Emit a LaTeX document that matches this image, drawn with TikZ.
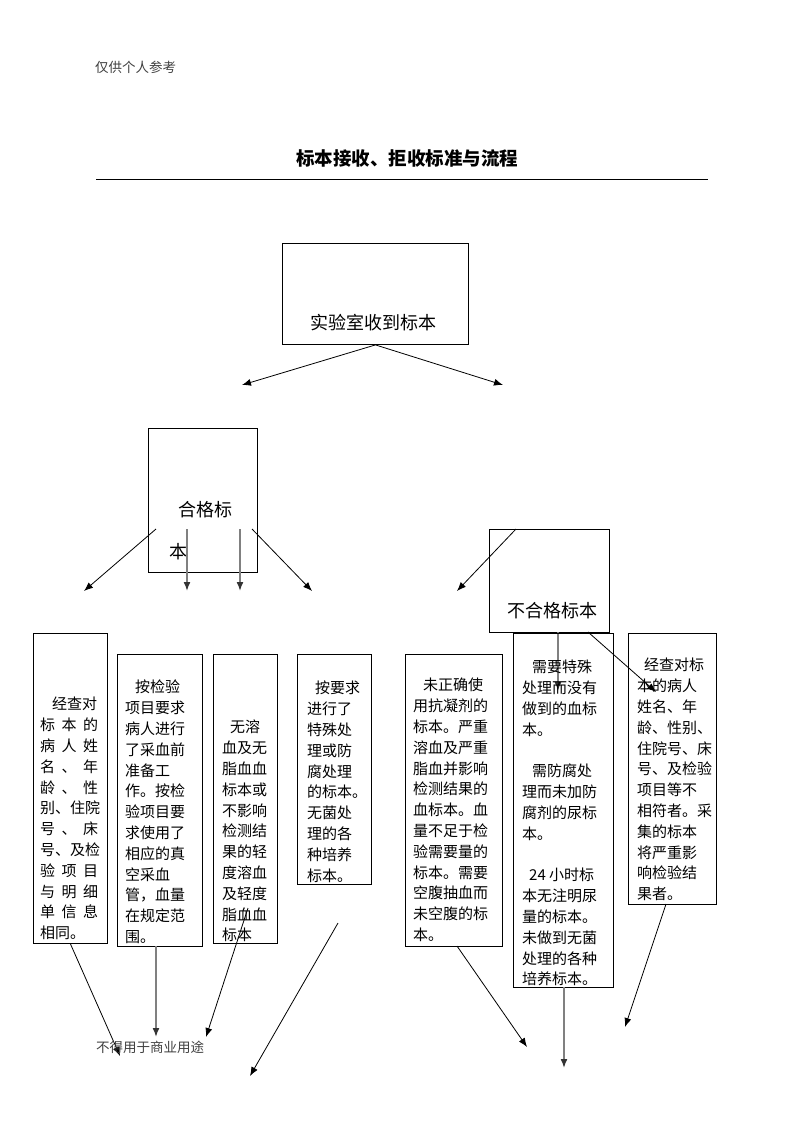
\documentclass[tikz,border=0pt]{standalone}
\usepackage{fontspec}
\newfontfamily\cjk{Noto Sans CJK SC}
\usetikzlibrary{arrows.meta}
% spread three characters over the line
\newcommand\spr[3]{\makebox[58pt][s]{#1\hfill #2\hfill #3}}
\tikzset{
  box/.style={draw, line width=0.9pt, inner sep=0pt, anchor=north west},
  txt/.style={font=\cjk\fontsize{15}{20.8}\selectfont, align=left, inner sep=0pt, anchor=north west},
  big/.style={font=\cjk\fontsize{18}{22}\selectfont, inner sep=0pt},
  small/.style={font=\cjk\fontsize{13.5}{16}\selectfont, text=black!75, inner sep=0pt, anchor=west},
  arr/.style={-{Latex[length=9pt,width=7pt]}, line width=0.8pt},
  garr/.style={-{Latex[length=9pt,width=7pt,color=black!80]}, draw=gray, line width=1.6pt},
}
\begin{document}
\begin{tikzpicture}[x=1pt,y=-1pt]
\useasboundingbox (0,0) rectangle (793,1122);
% header
\node[small] (note) at (95,67) {仅供个人参考};
\node[big, font=\cjk\fontsize{18.5}{22}\selectfont\bfseries] (title) at (407,158) {标本接收、拒收标准与流程};
\coordinate (rulel) at (96,179);
\coordinate (ruler) at (708,179);
\draw[line width=1pt] (rulel) -- (ruler);

% top box
\node[box, minimum width=186pt, minimum height=101pt] (recv) at (282,243) {};
\node[big] (recvtxt) at (373,323) {实验室收到标本};
\coordinate (recvl) at (242,385);
\coordinate (recvr) at (503,385);
\draw[arr] (recv.south) -- (recvl);
\draw[arr] (recv.south) -- (recvr);

% qualified
\node[box, minimum width=109pt, minimum height=144pt] (ok) at (148,428) {};
\node[big, anchor=west] (oktxta) at (178,510) {合格标};
\node[big, anchor=west] (oktxtb) at (169,552) {本};
\coordinate (oka) at (156,529);  \coordinate (okae) at (84,591);
\coordinate (okb) at (187,529);  \coordinate (okbe) at (187,591);
\coordinate (okc) at (240,529);  \coordinate (okce) at (240,591);
\coordinate (okd) at (252,529);  \coordinate (okde) at (312,591);
\draw[arr] (oka) -- (okae);
\draw[garr] (okb) -- (okbe);
\draw[garr] (okc) -- (okce);
\draw[arr] (okd) -- (okde);

% not qualified
\node[box, minimum width=120pt, minimum height=103pt] (bad) at (489,529) {};
\node[big] (badtxt) at (552,611) {不合格标本};
\coordinate (bada) at (516,529);  \coordinate (badae) at (457,591);
\coordinate (badb) at (558,632);  \coordinate (badbe) at (558,691);
\coordinate (badc) at (588,632);  \coordinate (badce) at (656,692);
\draw[arr] (bada) -- (badae);
\draw[garr] (badb) -- (badbe);
\draw[arr] (badc) -- (badce);

% accepted cases
\node[box, minimum width=74pt, minimum height=310pt] (okA) at (33,633) {};
\node[txt] (okAtxt) at (40,697) {\hspace*{12pt}经查对\\ \spr{标}{本}{的}\\ \spr{病}{人}{姓}\\
  \spr{名}{、}{年}\\ \spr{龄}{、}{性}\\ 别、住院\\ \spr{号}{、}{床}\\ 号、及检\\
  \spr{验}{项}{目}\\ \spr{与}{明}{细}\\ \spr{单}{信}{息}\\ 相同。};
\node[box, minimum width=85pt, minimum height=292pt] (okB) at (117,654) {};
\node[txt] (okBtxt) at (125,680) {\hspace*{10pt}按检验\\项目要求\\病人进行\\了采血前\\准备工\\
  作。按检\\验项目要\\求使用了\\相应的真\\空采血\\管，血量\\在规定范\\围。};
\node[box, minimum width=64pt, minimum height=289pt] (okC) at (213,654) {};
\node[txt] (okCtxt) at (222,720) {\hspace*{8pt}无溶\\血及无\\脂血血\\标本或\\不影响\\
  检测结\\果的轻\\度溶血\\及轻度\\脂血血\\标本};
\node[box, minimum width=74pt, minimum height=230pt] (okD) at (297,654) {};
\node[txt] (okDtxt) at (307,681) {\hspace*{8pt}按要求\\进行了\\特殊处\\理或防\\腐处理\\
  的标本。\\无菌处\\理的各\\种培养\\标本。};

% rejected cases
\node[box, minimum width=97pt, minimum height=292pt] (badE) at (405,654) {};
\node[txt] (badEtxt) at (413,678) {\hspace*{10pt}未正确使\\用抗凝剂的\\标本。严重\\溶血及严重\\
  脂血并影响\\检测结果的\\血标本。血\\量不足于检\\验需要量的\\标本。需要\\
  空腹抽血而\\未空腹的标\\本。};
\node[box, minimum width=100pt, minimum height=354pt] (badF) at (513,633) {};
\node[txt] (badFtxt) at (522,660) {\hspace*{10pt}需要特殊\\处理而没有\\做到的血标\\本。\\[20.8pt]
  \hspace*{10pt}需防腐处\\理而未加防\\腐剂的尿标\\本。\\[20.8pt]
  \hspace*{7pt}24 小时标\\本无注明尿\\量的标本。\\未做到无菌\\处理的各种\\培养标本。};
\node[box, minimum width=88pt, minimum height=271pt] (badG) at (628,633) {};
\node[txt] (badGtxt) at (637,658) {\hspace*{7pt}经查对标\\本的病人\\姓名、年\\龄、性别、\\住院号、床\\
  号、及检验\\项目等不\\相符者。采\\集的标本\\将严重影\\响检验结\\果者。};

% lower arrows
\coordinate (endA) at (120,1056);
\coordinate (begB) at (156,946);  \coordinate (endB) at (156,1037);
\coordinate (begC) at (248,908);  \coordinate (endC) at (206,1037);
\coordinate (begD) at (338,923);  \coordinate (endD) at (250,1076);
\coordinate (begE) at (457,946);  \coordinate (endE) at (527,1047);
\coordinate (begF) at (564,987);  \coordinate (endF) at (564,1068);
\coordinate (begG) at (666,904);  \coordinate (endG) at (625,1027);
\draw[arr] (okA.south) -- (endA);
\draw[garr] (begB) -- (endB);
\draw[arr] (begC) -- (endC);
\draw[arr] (begD) -- (endD);
\draw[arr] (begE) -- (endE);
\draw[garr] (begF) -- (endF);
\draw[arr] (begG) -- (endG);

\node[small] (foot) at (96,1047) {不得用于商业用途};
\end{tikzpicture}
\end{document}
